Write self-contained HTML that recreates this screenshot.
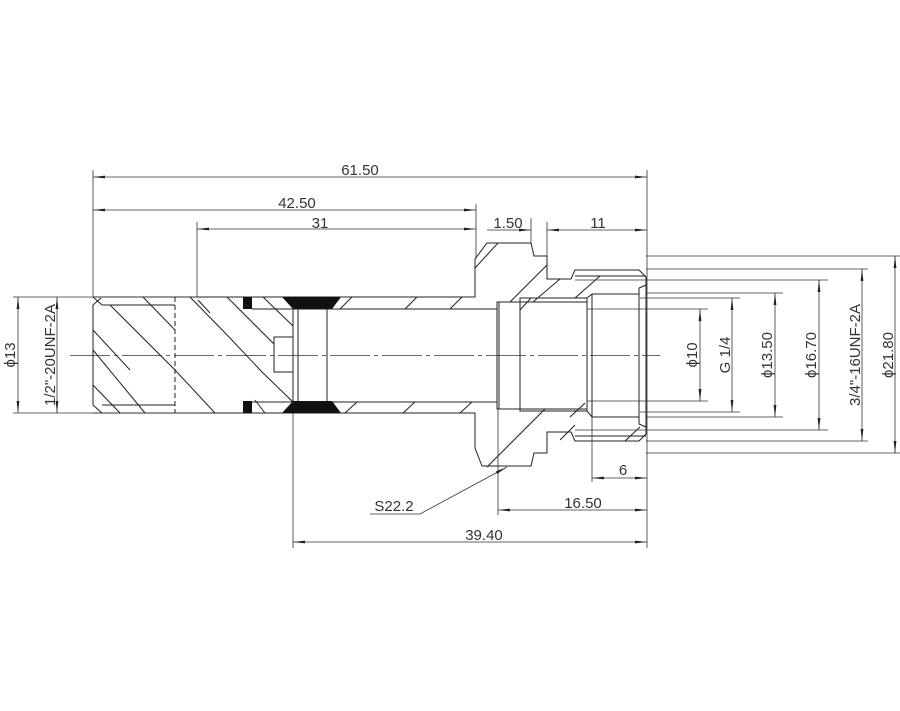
<!DOCTYPE html>
<html><head><style>body{margin:0;background:#fff}svg{display:block}text{font-family:"Liberation Sans",sans-serif;font-size:15px;fill:#333}</style></head>
<body>
<svg width="900" height="711" viewBox="0 0 900 711" xmlns="http://www.w3.org/2000/svg">
<defs>
<marker id="a" viewBox="0 0 12 4" refX="12" refY="2" markerWidth="12" markerHeight="4" markerUnits="userSpaceOnUse" orient="auto-start-reverse"><path d="M0,0.6 L12,2 L0,3.4z" fill="#222"/></marker>
</defs>
<g fill="none" stroke="#222" stroke-width="1">
<path d="M93,305 L102,297 L197,297"/>
<path d="M93,297 H197" stroke="#999" stroke-width="2"/>
<path d="M93,413 H197" stroke="#999" stroke-width="2"/>
<path d="M93,305 V405 L102,413"/>
<path d="M102,305 H175 M102,405 H175"/>
<path d="M175,297 V413" stroke-dasharray="5,3"/>
<path d="M197,297 H475 V259 L487,243 H531 L534,256 H547 V279 H571 L575,270 H639 L646,277 V434 L639,441 H575 L571,432 H547 V453 H534 L531,466 H482 L475,448 V413 H197"/>
<path d="M252,309 H497 V302 H587 M252,402 H497 V409 H587"/>
<path d="M497,309 V402 M499,302 V409"/>
<path d="M520,298 H587 V411 H520 Z"/>
<path d="M592,294 H639 M592,417 H639 M592,294 V417 M587,298 L592,294 M587,411 L592,417"/>
<path d="M639,288 L646,285 M639,288 V424 L646,427"/>
<path d="M293,309 V402 M298,309 V402 M327,309 V402"/>
<path d="M274,337 H293 V372 H274 Z"/>
<path d="M575,276 H646 M575,436 H646"/>
<path d="M110,305 L175,370 M175,370 L215,413 M102,305 L93,297 M93,330 L130,370 M93,350 L145,413 M93,385 L120,413 M143,297 L175,330 M190,297 L230,338 L262,372 L293,402 M227,297 L274,344 M263,297 L293,326 M255,400 L265,413 M198,300 L210,313"/>
<path d="M340,309 L352,297 M405,309 L417,297 M450,309 L462,297 M345,413 L357,402 M403,413 L415,402 M460,413 L472,402 M475,268 L498,243 M510,302 L547,265 M533,302 L560,279 M575,298 L600,276 M487,467 L545,409 M570,417 L585,403 M560,440 L575,425 M625,441 L640,427"/>
<path d="M520,310 L531,298" />
</g>
<g fill="#111">
<rect x="243" y="297" width="9" height="12"/><rect x="243" y="401" width="9" height="12"/>
<path d="M282,297 H341 L332,309 H293Z"/><path d="M282,413 H341 L332,401 H293Z"/>
</g>
<path d="M70,355.5 H660" stroke="#333" stroke-width="0.8" stroke-dasharray="40,4,4,4" fill="none"/>
<g fill="none" stroke="#333" stroke-width="0.8">
<path d="M93,170 V297 M197,222 V297 M476,204 V259 M647,170 V548 M531,218 V243 M547,222 V256 M293,413 V548 M498,409 V515 M592,417 V482"/>
<path d="M13,297 H93 M13,413 H93"/>
<path d="M587,309 H708 M587,401 H708 M640,298 H740 M640,412 H740 M646,293 H783 M646,417 H783 M575,280 H828 M575,430 H828 M646,269 H868 M646,441 H868 M646,256 H900 M646,453 H900"/>
<path d="M93,177 H647" marker-start="url(#a)" marker-end="url(#a)"/>
<path d="M93,210 H476" marker-start="url(#a)" marker-end="url(#a)"/>
<path d="M197,229 H476" marker-start="url(#a)" marker-end="url(#a)"/>
<path d="M487,230 H531" marker-end="url(#a)"/>
<path d="M547,230 H647" marker-start="url(#a)" marker-end="url(#a)"/>
<path d="M293,542 H647" marker-start="url(#a)" marker-end="url(#a)"/>
<path d="M498,510 H647" marker-start="url(#a)" marker-end="url(#a)"/>
<path d="M592,478 H647" marker-start="url(#a)" marker-end="url(#a)"/>
<path d="M18,297 V413" marker-start="url(#a)" marker-end="url(#a)"/>
<path d="M57,297 V413" marker-start="url(#a)" marker-end="url(#a)"/>
<path d="M700,309 V401" marker-start="url(#a)" marker-end="url(#a)"/>
<path d="M732,298 V412" marker-start="url(#a)" marker-end="url(#a)"/>
<path d="M775,293 V417" marker-start="url(#a)" marker-end="url(#a)"/>
<path d="M819,280 V430" marker-start="url(#a)" marker-end="url(#a)"/>
<path d="M862,269 V441" marker-start="url(#a)" marker-end="url(#a)"/>
<path d="M895,256 V453" marker-start="url(#a)" marker-end="url(#a)"/>
<path d="M370,514 H420 L507,467" marker-end="url(#a)"/>
</g>
<text x="360" y="175" text-anchor="middle">61.50</text>
<text x="297" y="208" text-anchor="middle">42.50</text>
<text x="320" y="228" text-anchor="middle">31</text>
<text x="508" y="228" text-anchor="middle">1.50</text>
<text x="598" y="228" text-anchor="middle">11</text>
<text x="623" y="475" text-anchor="middle">6</text>
<text x="583" y="508" text-anchor="middle">16.50</text>
<text x="484" y="540" text-anchor="middle">39.40</text>
<text x="394" y="511" text-anchor="middle">S22.2</text>
<text transform="translate(15,355) rotate(-90)" text-anchor="middle">ϕ13</text>
<text transform="translate(55,355) rotate(-90)" text-anchor="middle">1/2"-20UNF-2A</text>
<text transform="translate(697,355) rotate(-90)" text-anchor="middle">ϕ10</text>
<text transform="translate(730,355) rotate(-90)" text-anchor="middle">G 1/4</text>
<text transform="translate(772,355) rotate(-90)" text-anchor="middle">ϕ13.50</text>
<text transform="translate(816,355) rotate(-90)" text-anchor="middle">ϕ16.70</text>
<text transform="translate(860,355) rotate(-90)" text-anchor="middle">3/4"-16UNF-2A</text>
<text transform="translate(893,355) rotate(-90)" text-anchor="middle">ϕ21.80</text>
</svg>
</body></html>
